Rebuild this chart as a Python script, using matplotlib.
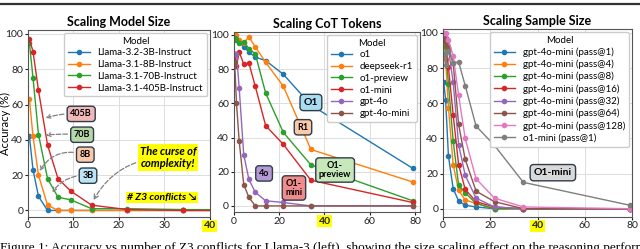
import matplotlib
matplotlib.use("Agg")
import matplotlib.pyplot as plt

# shared x positions (number of Z3 conflicts, binned)
conflicts = [0.3, 1.1, 2.3, 4.3, 6.6, 9.4, 14, 21.8, 34, 79]

# left panel: model size
llama_names = ["Llama-3.2-3B-Instruct", "Llama-3.1-8B-Instruct",
               "Llama-3.1-70B-Instruct", "Llama-3.1-405B-Instruct"]
llama_3b = [42, 23, 8, 0, 0, 0, 0, 0, 0, 0]
llama_8b = [63, 42, 20, 3, 0, 0, 0, 0, 0, 0]
llama_70b = [95, 75, 43, 18, 7.5, 6, 1, 1, 0.5, 0]
llama_405b = [97, 90, 68, 37, 18, 11, 3, 0.5, 0, 0]

# middle panel: CoT tokens
cot_names = ["o1", "deepseek-r1", "o1-preview", "o1-mini", "gpt-4o", "gpt-4o-mini"]
o1 = [100, 98, 96, 93, 90, 87, 85, 77, 59, 22]
deepseek_r1 = [100, 100, 97, 95, 99, 93, 84, 70, 33, 14]
o1_preview = [98, 97, 95, 96, 92, 89, 66, 43, 24, 3]
o1_mini = [89, 82, 90, 83, 83.5, 70, 47, 36, 15, 2]
gpt_4o = [89, 89, 69, 30, 15.5, 8, 3, 2, 0, 0]
gpt_4o_mini = [84, 60, 38, 12.5, 5, 0, 0, 0, 0, 0]

# right panel: sample size
sample_names = ["gpt-4o-mini (pass@1)", "gpt-4o-mini (pass@4)", "gpt-4o-mini (pass@8)",
                "gpt-4o-mini (pass@16)", "gpt-4o-mini (pass@32)", "gpt-4o-mini (pass@64)",
                "gpt-4o-mini (pass@128)", "o1-mini (pass@1)"]
pass1 = [72, 62, 30, 11.4, 4.4, 2, 1, 0, 0, 0]
pass4 = [97, 85, 57.5, 25, 10.5, 5, 3, 0, 0, 0]
pass8 = [98, 92, 71, 38.5, 13.5, 9, 3, 0, 0, 0]
pass16 = [98, 95, 80.5, 53.5, 25, 11, 4, 1, 0, 0]
pass32 = [99, 97, 91, 72, 36.5, 19, 6, 1, 0, 0]
pass64 = [97, 95, 92, 83, 48, 28, 10, 4, 0, 0]
pass128 = [100, 100, 96, 87, 64.5, 40, 17, 6, 1, 0]
o1_mini_pass1 = [88, 82, 90, 83, 83.5, 70, 47, 36, 15, 2]

colors = ["tab:blue", "tab:orange", "tab:green", "tab:red",
          "tab:purple", "tab:brown", "tab:pink", "tab:gray"]

plt.rcParams["font.family"] = ["Lato", "DejaVu Sans"]
plt.rcParams["axes.edgecolor"] = "#555555"
plt.rcParams["xtick.color"] = "#222222"
plt.rcParams["ytick.color"] = "#222222"

BOX_EDGE = "#2e3d4a"


def draw_lines(ax, names, series):
    for i, (name, ys) in enumerate(zip(names, series)):
        ax.plot(conflicts, ys, marker="o", markersize=3, linewidth=1,
                color=colors[i], label=name)


def style_axes(ax, title, xticks, xlim, ylim):
    ax.set_title(title, fontsize=9, fontweight="bold", pad=3)
    ax.set_xlim(*xlim)
    ax.set_ylim(*ylim)
    ax.set_xticks(xticks)
    ax.set_yticks([0, 20, 40, 60, 80, 100])
    ax.grid(True, color="#dddddd", linewidth=0.7)
    ax.set_axisbelow(True)
    ax.tick_params(labelsize=7.5, length=2, pad=1.5)
    for lab in ax.get_xticklabels():
        if lab.get_text() == "40":
            lab.set_fontweight("bold")
            lab.set_bbox(dict(facecolor="#ffff00", edgecolor="none", pad=1))


def add_legend(ax):
    ax.legend(title="Model", fontsize=7, title_fontsize=7, loc="upper right",
              borderaxespad=0.3, handlelength=2.2, labelspacing=0.28, framealpha=1)


def tag(ax, text, xy, color, fs=6.5):
    ax.text(xy[0], xy[1], text, fontsize=fs, fontweight="bold", ha="center", va="center",
            linespacing=1.0,
            bbox=dict(boxstyle="round,pad=0.35", facecolor=color, edgecolor=BOX_EDGE, linewidth=1))


def arrow_tag(ax, text, xy, xytext, color, rad):
    ax.annotate(text, xy=xy, xytext=xytext, fontsize=6.5, fontweight="bold",
                ha="center", va="center",
                bbox=dict(boxstyle="round,pad=0.35", facecolor=color, edgecolor=BOX_EDGE, linewidth=1),
                arrowprops=dict(arrowstyle="->", color="gray", linestyle="--", linewidth=0.9,
                                connectionstyle="arc3,rad=%s" % rad))


fig = plt.figure(figsize=(6.4, 2.49), dpi=100)
ax1 = fig.add_axes([0.0438, 0.130, 0.284, 0.750])
ax2 = fig.add_axes([0.3656, 0.149, 0.2906, 0.723])
ax3 = fig.add_axes([0.6922, 0.130, 0.2953, 0.754])

# left panel
draw_lines(ax1, llama_names, [llama_3b, llama_8b, llama_70b, llama_405b])
style_axes(ax1, "Scaling Model Size", [0, 10, 20, 30, 40], (0, 40), (-3.5, 102.3))
ax1.set_ylabel("Accuracy (%)", fontsize=8)
ax1.yaxis.set_label_coords(-0.095, 0.5)
add_legend(ax1)
arrow_tag(ax1, "405B", (3.3, 52), (11.7, 54.7), "#f2b8b8", 0.1)
arrow_tag(ax1, "70B", (3.3, 42.5), (11.9, 42.9), "#b6d7a8", 0.05)
arrow_tag(ax1, "8B", (2.2, 21), (12.6, 31.6), "#f9c9a9", 0.4)
arrow_tag(ax1, "3B", (5, 9), (13.2, 19.7), "#bde3f5", 0.3)
ax1.annotate("The curse of\ncomplexity!", xy=(14.1, 4.5), xytext=(30.8, 30),
             fontsize=8, fontweight="bold", style="italic", ha="center", va="center",
             bbox=dict(facecolor="#ffff00", edgecolor="none", pad=1),
             arrowprops=dict(arrowstyle="->", color="gray", linestyle="--", linewidth=0.9,
                             connectionstyle="arc3,rad=0.3"))
ax1.text(29.5, 7.3, "# Z3 conflicts \u2198", fontsize=7.5, fontweight="bold", style="italic",
         ha="center", va="center",
         bbox=dict(facecolor="#ffff00", edgecolor="none", pad=1))

# middle panel
draw_lines(ax2, cot_names, [o1, deepseek_r1, o1_preview, o1_mini, gpt_4o, gpt_4o_mini])
style_axes(ax2, "Scaling CoT Tokens", [0, 20, 40, 60, 80], (0, 82.2), (-3.5, 101.8))
add_legend(ax2)
tag(ax2, "O1", (34, 60.5), "#a9dcf0", fs=7.5)
tag(ax2, "R1", (30.5, 46), "#f9c9a9")
tag(ax2, "4o", (13.3, 19), "#b49ad4")
tag(ax2, "O1-\nmini", (26.5, 10.5), "#f28b8b")
tag(ax2, "O1-\npreview", (44.7, 21), "#c6e8bb")

# right panel
draw_lines(ax3, sample_names, [pass1, pass4, pass8, pass16, pass32, pass64, pass128, o1_mini_pass1])
style_axes(ax3, "Scaling Sample Size", [0, 20, 40, 60, 80], (0, 80), (-4.5, 102.3))
add_legend(ax3)
tag(ax3, "O1-mini", (46.5, 20.5), "#d9d9d9", fs=7.5)

# page decoration around the figure
fig.add_artist(plt.Line2D([0, 1], [0.982, 0.982], color="#333333", linewidth=1.6))
fig.text(0.0, 1 - 242 / 249, "Figure 1: Accuracy vs number of Z3 conflicts for Llama-3 (left), "
         "showing the size scaling effect on the reasoning performance",
         fontsize=9.5, family="Liberation Serif", ha="left", va="top")

fig.savefig("out.png", dpi=100)
